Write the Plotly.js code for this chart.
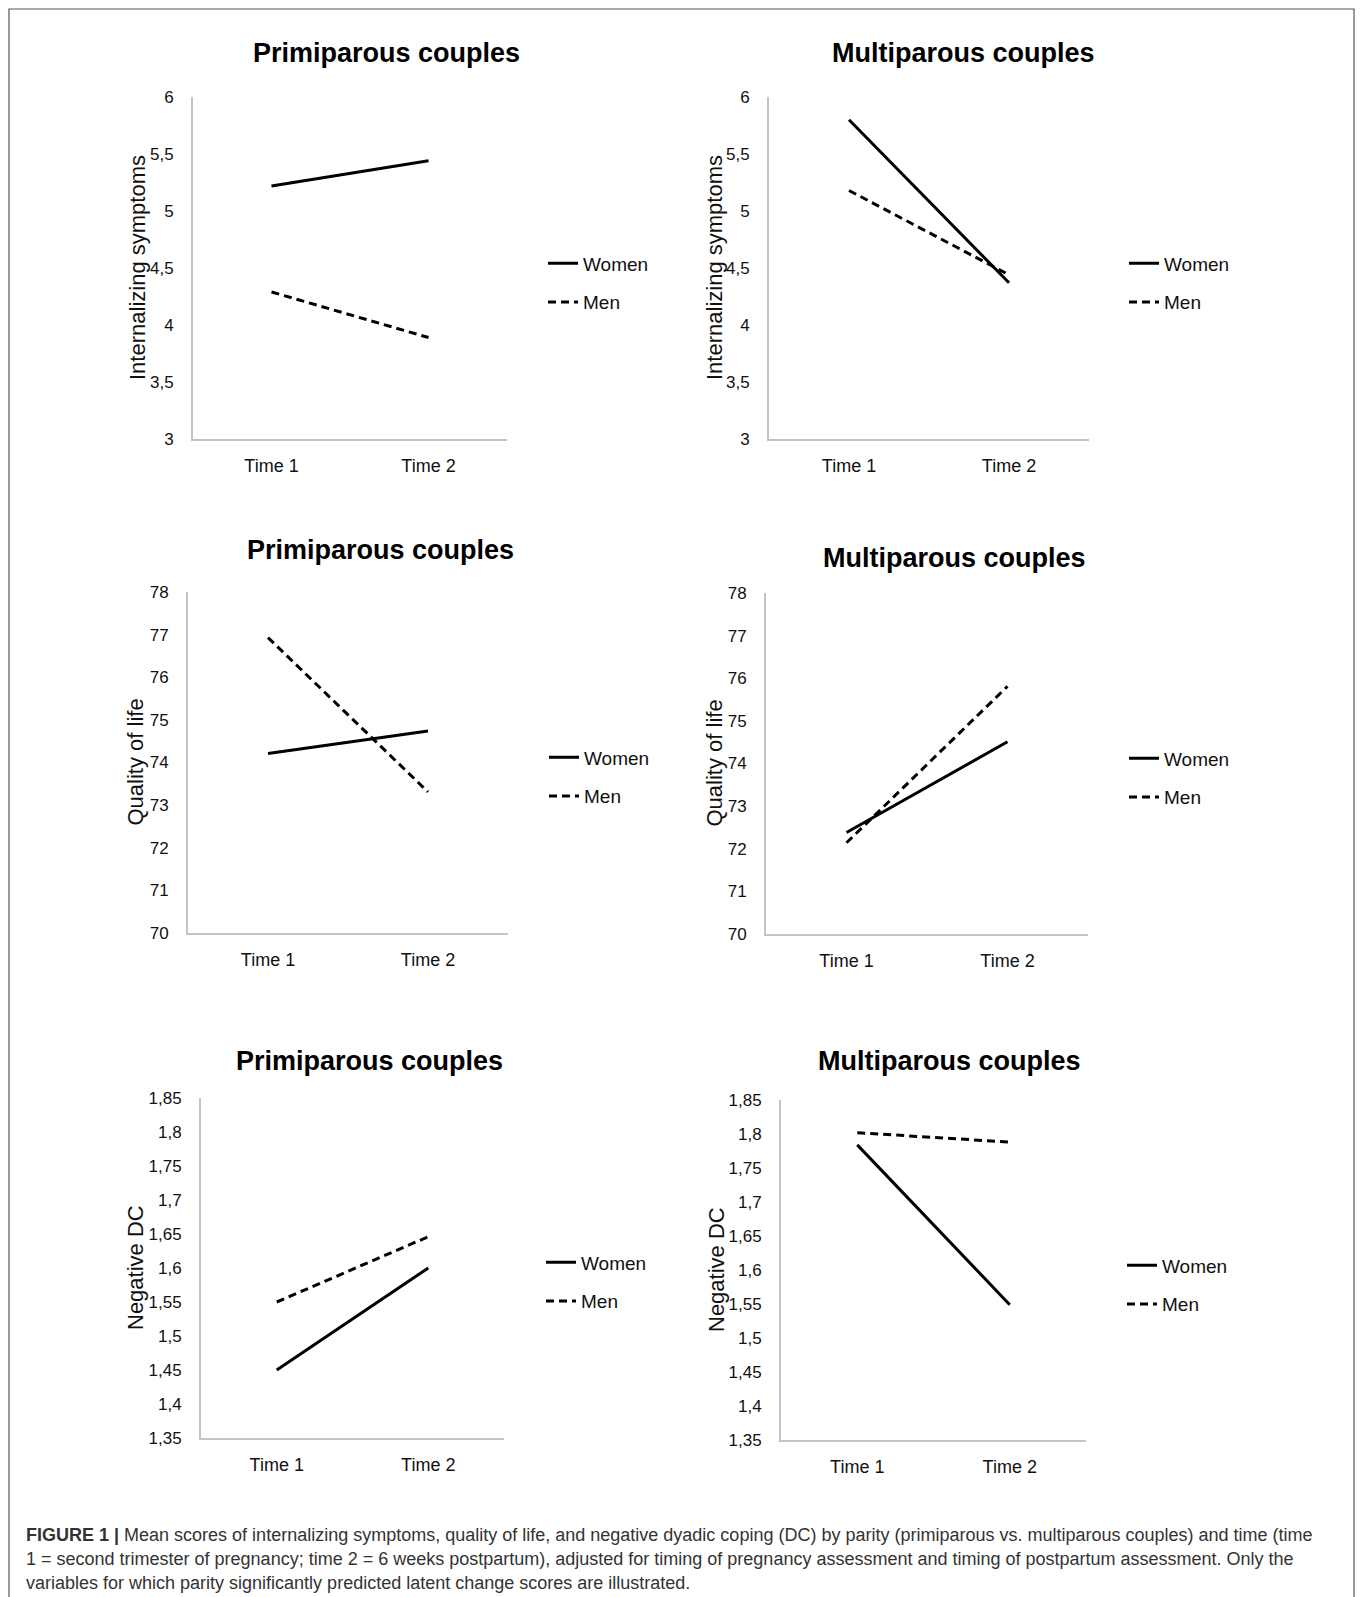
<!DOCTYPE html>
<html>
<head>
<meta charset="utf-8">
<script src="https://cdn.plot.ly/plotly-3.0.1.min.js"></script>
<style>html,body{margin:0;padding:0;background:#fff;}#chart{width:1360px;height:1597px;}</style>
</head>
<body>
<div id="chart"></div>
<script>
// ---------- data ----------
const times = ['Time 1', 'Time 2'];
const seriesNames = ['Women', 'Men'];

const intPrimWomen = [5.22, 5.44];
const intPrimMen   = [4.29, 3.89];
const intMultWomen = [5.80, 4.37];
const intMultMen   = [5.18, 4.44];

const qolPrimWomen = [74.21, 74.74];
const qolPrimMen   = [76.93, 73.31];
const qolMultWomen = [72.38, 74.51];
const qolMultMen   = [72.14, 75.81];

const dcPrimWomen = [1.45, 1.60];
const dcPrimMen   = [1.55, 1.646];
const dcMultWomen = [1.784, 1.549];
const dcMultMen   = [1.802, 1.788];

const intTickVals = [3, 3.5, 4, 4.5, 5, 5.5, 6];
const intTickText = ['3', '3,5', '4', '4,5', '5', '5,5', '6'];
const qolTickVals = [70, 71, 72, 73, 74, 75, 76, 77, 78];
const qolTickText = ['70', '71', '72', '73', '74', '75', '76', '77', '78'];
const dcTickVals = [1.35, 1.4, 1.45, 1.5, 1.55, 1.6, 1.65, 1.7, 1.75, 1.8, 1.85];
const dcTickText = ['1,35', '1,4', '1,45', '1,5', '1,55', '1,6', '1,65', '1,7', '1,75', '1,8', '1,85'];

const panelTitles = ['Primiparous couples', 'Multiparous couples'];
const yTitles = ['Internalizing symptoms', 'Quality of life', 'Negative DC'];

const captionLines = [
  '<b>FIGURE 1 |</b> Mean scores of internalizing symptoms, quality of life, and negative dyadic coping (DC) by parity (primiparous vs. multiparous couples) and time (time',
  '1 = second trimester of pregnancy; time 2 = 6 weeks postpartum), adjusted for timing of pregnancy assessment and timing of postpartum assessment. Only the',
  'variables for which parity significantly predicted latent change scores are illustrated.'
];

// ---------- layout geometry (pixels) ----------
const W = 1360, H = 1597;
const px = x => x / W;
const py = y => 1 - y / H;

const REG = '"Liberation Sans", Arial, sans-serif';

const panels = [
  {x0: 193, x1: 507, yT: 97,   yB: 439,  tx: 386, ty: 53,   ytx: 137, lgx: 543,  lgy: 283,  w: intPrimWomen, m: intPrimMen, tv: intTickVals, tt: intTickText, title: panelTitles[0], yt: yTitles[0]},
  {x0: 769, x1: 1089, yT: 97,  yB: 439,  tx: 963, ty: 53,   ytx: 714, lgx: 1124, lgy: 283,  w: intMultWomen, m: intMultMen, tv: intTickVals, tt: intTickText, title: panelTitles[1], yt: yTitles[0]},
  {x0: 188, x1: 508, yT: 592,  yB: 933,  tx: 380, ty: 550,  ytx: 135, lgx: 544,  lgy: 777,  w: qolPrimWomen, m: qolPrimMen, tv: qolTickVals, tt: qolTickText, title: panelTitles[0], yt: yTitles[1]},
  {x0: 766, x1: 1088, yT: 593, yB: 934,  tx: 955, ty: 558,  ytx: 714, lgx: 1124, lgy: 778,  w: qolMultWomen, m: qolMultMen, tv: qolTickVals, tt: qolTickText, title: panelTitles[1], yt: yTitles[1]},
  {x0: 201, x1: 504, yT: 1098, yB: 1438, tx: 369, ty: 1061, ytx: 135, lgx: 541,  lgy: 1282, w: dcPrimWomen, m: dcPrimMen, tv: dcTickVals, tt: dcTickText, title: panelTitles[0], yt: yTitles[2]},
  {x0: 781, x1: 1086, yT: 1100, yB: 1440, tx: 949, ty: 1061, ytx: 716, lgx: 1122, lgy: 1285, w: dcMultWomen, m: dcMultMen, tv: dcTickVals, tt: dcTickText, title: panelTitles[1], yt: yTitles[2]}
];

const traces = [];
const layout = {
  width: W, height: H,
  margin: {l: 0, r: 0, t: 0, b: 0},
  paper_bgcolor: '#ffffff',
  plot_bgcolor: '#ffffff',
  showlegend: true,
  annotations: [],
  shapes: [{
    type: 'rect', xref: 'paper', yref: 'paper',
    x0: px(9), x1: px(1354), y0: py(1610), y1: py(9),
    line: {color: '#555555', width: 1.2}, fillcolor: 'rgba(0,0,0,0)'
  }]
};

panels.forEach((p, i) => {
  const n = i + 1;
  const xa = n === 1 ? 'xaxis' : 'xaxis' + n;
  const ya = n === 1 ? 'yaxis' : 'yaxis' + n;
  const xr = n === 1 ? 'x' : 'x' + n;
  const yr = n === 1 ? 'y' : 'y' + n;
  const lg = n === 1 ? 'legend' : 'legend' + n;

  traces.push({
    type: 'scatter', mode: 'lines', x: times, y: p.w, name: seriesNames[0],
    xaxis: xr, yaxis: yr, legend: lg, legendgroup: 'w' + n,
    line: {color: '#000000', width: 3}, hoverinfo: 'skip'
  });
  traces.push({
    type: 'scatter', mode: 'lines', x: times, y: p.m, name: seriesNames[1],
    xaxis: xr, yaxis: yr, legend: lg, legendgroup: 'm' + n,
    line: {color: '#000000', width: 3, dash: '8px,5px'}, hoverinfo: 'skip'
  });

  layout[xa] = {
    domain: [px(p.x0), px(p.x1)], anchor: yr,
    type: 'category', range: [-0.5, 1.5],
    showline: true, linecolor: '#c4c4c4', linewidth: 2,
    showgrid: false, zeroline: false, ticks: '',
    ticklabelstandoff: 9,
    tickfont: {family: REG, size: 18, color: '#111111'},
    fixedrange: true
  };
  layout[ya] = {
    domain: [py(p.yB), py(p.yT)], anchor: xr,
    range: [p.tv[0], p.tv[p.tv.length - 1]],
    tickmode: 'array', tickvals: p.tv, ticktext: p.tt,
    showline: true, linecolor: '#c4c4c4', linewidth: 2,
    showgrid: false, zeroline: false, ticks: '',
    ticklabelstandoff: 14,
    tickfont: {family: REG, size: 17, color: '#111111'},
    fixedrange: true
  };
  layout[lg] = {
    x: px(p.lgx), xanchor: 'left', y: py(p.lgy), yanchor: 'middle',
    xref: 'paper', yref: 'paper',
    bgcolor: 'rgba(0,0,0,0)', borderwidth: 0,
    font: {family: REG, size: 19, color: '#111111'},
    traceorder: 'grouped', tracegroupgap: 11,
    itemclick: false, itemdoubleclick: false
  };

  layout.annotations.push({
    xref: 'paper', yref: 'paper', x: px(p.tx), y: py(p.ty),
    xanchor: 'center', yanchor: 'middle', showarrow: false,
    text: '<b>' + p.title + '</b>',
    font: {family: REG, size: 27, color: '#000000'}
  });
  layout.annotations.push({
    xref: 'paper', yref: 'paper', x: px(p.ytx), y: py((p.yT + p.yB) / 2),
    xanchor: 'center', yanchor: 'middle', showarrow: false, textangle: -90,
    text: p.yt,
    font: {family: REG, size: 22, color: '#111111'}
  });
});

const capY = [1535, 1559, 1583];
captionLines.forEach((t, i) => {
  layout.annotations.push({
    xref: 'paper', yref: 'paper', x: px(24), y: py(capY[i]),
    xanchor: 'left', yanchor: 'middle', showarrow: false, align: 'left',
    text: t,
    font: {family: REG, size: 18, color: '#333333'}
  });
});

Plotly.newPlot('chart', traces, layout, {displayModeBar: false, staticPlot: true});
</script>
</body>
</html>
